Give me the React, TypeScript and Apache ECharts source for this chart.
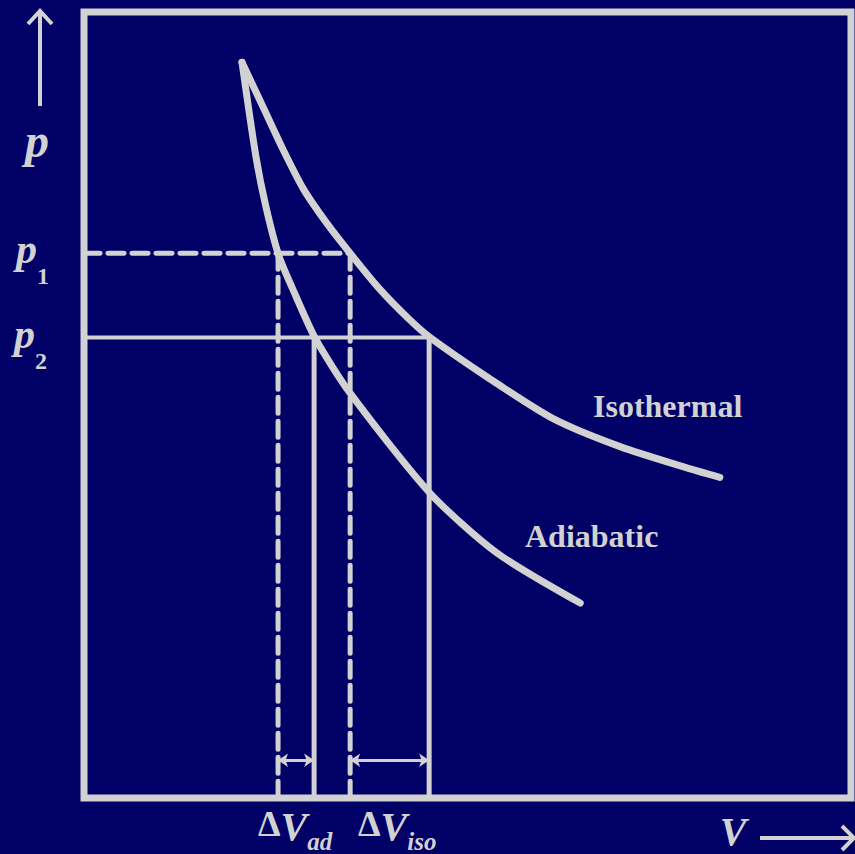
import React, { useEffect, useRef } from "react";
import * as echarts from "echarts";

// Curves (V, p in arbitrary units)
const isoV = [2.06, 2.33, 2.59, 2.86, 3.16, 3.47, 3.85, 4.24, 4.51, 5.25, 6.11, 6.99, 7.86, 8.29];
const isoP = [9.36, 8.8, 8.26, 7.75, 7.32, 6.93, 6.48, 6.09, 5.86, 5.36, 4.83, 4.47, 4.2, 4.08];
const adiV = [2.06, 2.24, 2.37, 2.54, 2.76, 3.02, 3.47, 4.51, 5.38, 6.47];
const adiP = [9.36, 8.17, 7.53, 6.9, 6.39, 5.84, 5.15, 3.88, 3.12, 2.48];

// Reference levels
const p1 = 6.93;
const p2 = 5.86;
const vAd1 = 2.53;
const vAd2 = 3.0;
const vIso1 = 3.47;
const vIso2 = 4.5;
const arrowP = 0.48;

const BG = "#000066";
const FG = "#d2d2d2";

export default function App() {
  const ref = useRef<HTMLDivElement>(null);
  useEffect(() => {
    if (!ref.current) return;
    const chart = echarts.init(ref.current, null, { renderer: "svg" });
    const zip = (a: number[], b: number[]) => a.map((v, i) => [v, b[i]]);
    const seg = (data: number[][], width: number, type: any) => ({
      type: "line",
      data,
      showSymbol: false,
      symbol: "none",
      silent: true,
      lineStyle: { color: FG, width, type, join: "round", cap: "round" },
    });
    const serif = "'Liberation Serif', 'DejaVu Serif', serif";
    const sub = (x: number, y: number, main: string, s: string, big: number, small: number) => ({
      type: "text",
      x,
      y,
      style: {
        text: `{m|${main}}{s|${s}}`,
        fill: FG,
        rich: {
          m: { font: `italic bold ${big}px ${serif}`, fill: FG, verticalAlign: "top", lineHeight: big + 18 },
          s: { font: `bold ${small}px ${serif}`, fill: FG, verticalAlign: "bottom", lineHeight: big + 18 },
        },
      },
    });
    const subD = (x: number, y: number, s: string) => ({
      type: "text",
      x,
      y,
      style: {
        text: `{d|Δ}{m|V}{s|${s}}`,
        fill: FG,
        rich: {
          d: { font: `bold 36px ${serif}`, fill: FG, verticalAlign: "top", lineHeight: 48 },
          m: { font: `italic bold 40px ${serif}`, fill: FG, verticalAlign: "top", lineHeight: 48 },
          s: { font: `italic bold 25px ${serif}`, fill: FG, verticalAlign: "bottom", lineHeight: 48 },
        },
      },
    });
    chart.setOption({
      animation: false,
      backgroundColor: BG,
      grid: {
        left: 84,
        top: 12,
        right: 4,
        bottom: 56,
        show: true,
        borderColor: FG,
        borderWidth: 7,
        backgroundColor: "transparent",
      },
      xAxis: { type: "value", min: 0, max: 10, show: false },
      yAxis: { type: "value", min: 0, max: 10, show: false },
      series: [
        { ...seg(zip(isoV, isoP), 7, "solid"), smooth: 0.25 },
        { ...seg(zip(adiV, adiP), 7, "solid"), smooth: 0.25 },
        seg([[0, p1], [vIso1, p1]], 5, [16, 8]),
        seg([[vAd1, p1], [vAd1, 0]], 5, [16, 8]),
        seg([[vIso1, p1], [vIso1, 0]], 5, [16, 8]),
        seg([[0, p2], [vIso2, p2]], 4, "solid"),
        seg([[vAd2, p2], [vAd2, 0]], 5, "solid"),
        seg([[vIso2, p2], [vIso2, 0]], 5, "solid"),
        {
          type: "lines",
          coordinateSystem: "cartesian2d",
          symbol: ["arrow", "arrow"],
          symbolSize: 10,
          silent: true,
          lineStyle: { color: FG, width: 3, opacity: 1 },
          data: [
            { coords: [[vAd1, arrowP], [vAd2, arrowP]] },
            { coords: [[vIso1, arrowP], [vIso2, arrowP]] },
          ],
        },
      ],
      graphic: [
        // p axis arrow
        { type: "line", shape: { x1: 40, y1: 106, x2: 40, y2: 12 }, style: { stroke: FG, lineWidth: 4 } },
        { type: "polyline", shape: { points: [[28, 24], [40, 11], [52, 24]] }, style: { stroke: FG, lineWidth: 4, fill: null } },
        { type: "text", x: 37, y: 140, style: { text: "p", font: `italic bold 48px ${serif}`, fill: FG, align: "center", verticalAlign: "middle" } },
        sub(16, 228, "p", "1", 42, 24),
        sub(14, 313, "p", "2", 42, 24),
        // ΔV labels
        subD(258, 806, "ad"),
        subD(358, 806, "iso"),
        // V axis label and arrow
        { type: "text", x: 733, y: 831, style: { text: "V", font: `italic bold 40px ${serif}`, fill: FG, align: "center", verticalAlign: "middle" } },
        { type: "line", shape: { x1: 760, y1: 838, x2: 852, y2: 838 }, style: { stroke: FG, lineWidth: 4 } },
        { type: "polyline", shape: { points: [[842, 826], [854, 838], [842, 850]] }, style: { stroke: FG, lineWidth: 4, fill: null } },
        // curve names
        { type: "text", x: 593, y: 406, style: { text: "Isothermal", font: `bold 32px ${serif}`, fill: FG, align: "left", verticalAlign: "middle" } },
        { type: "text", x: 525, y: 536, style: { text: "Adiabatic", font: `bold 32px ${serif}`, fill: FG, align: "left", verticalAlign: "middle" } },
      ],
    });
    return () => chart.dispose();
  }, []);
  return (
    <div
      ref={ref}
      style={{ position: "fixed", left: 0, top: 0, width: 855, height: 854, background: BG }}
    />
  );
}
